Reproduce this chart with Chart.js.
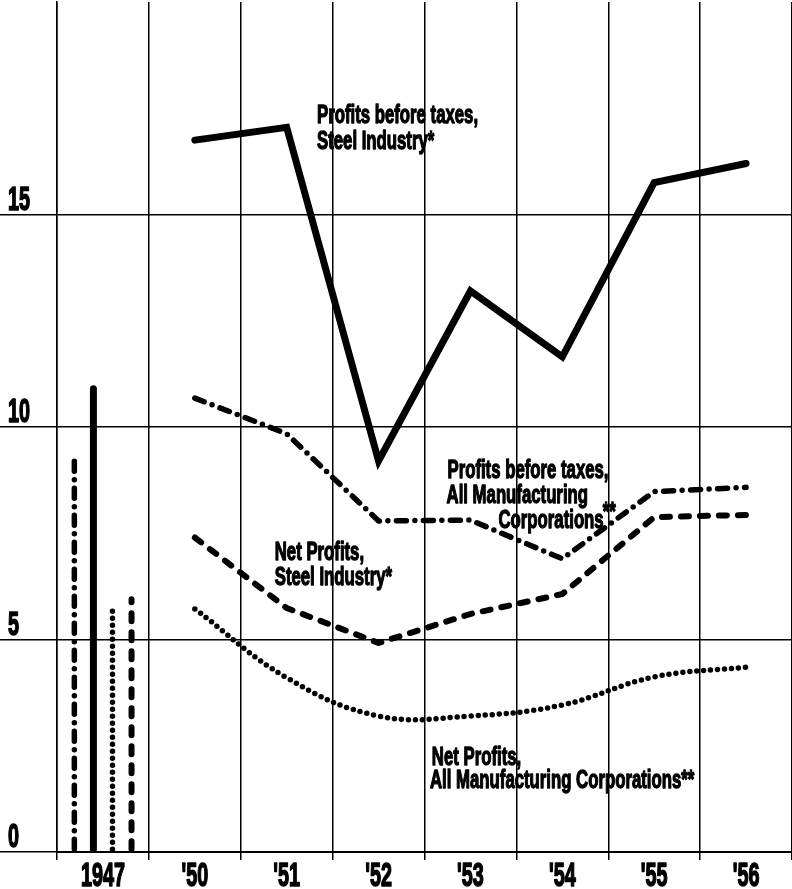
<!DOCTYPE html>
<html>
<head>
<meta charset="utf-8">
<script src="https://cdn.jsdelivr.net/npm/chart.js@4.4.1/dist/chart.umd.min.js"></script>
<style>
html, body { margin: 0; padding: 0; background: #fff; }
</style>
</head>
<body>
<canvas id="myChart" width="792" height="889"></canvas>
<script>
// categories and values (per cent); 1947 is drawn as single bars, 1950-56 as lines
var years = ["1947", "'50", "'51", "'52", "'53", "'54", "'55", "'56"];
var yTickValues = [0, 5, 10, 15];

var steelBefore = [10.9, 16.75, 17.05, 9.2, 13.2, 11.65, 15.75, 16.2];
var steelNet = [5.95, 7.4, 5.74, 4.92, 5.6, 6.07, 7.88, 7.93];
var allBefore = [9.27, 10.68, 9.84, 7.79, 7.81, 6.9, 8.48, 8.58];
var allNet = [5.69, 5.72, 4.1, 3.2, 3.2, 3.46, 4.12, 4.35];

// annotations: category position, value position
var notes = [
    {text: "Profits before taxes,", at: 2.33, v: 17.15, align: "left"},
    {text: "Steel Industry*", at: 2.33, v: 16.54, align: "left"},
    {text: "Profits before taxes,", at: 3.75, v: 8.8, align: "left"},
    {text: "All Manufacturing", at: 3.74, v: 8.21, align: "left"},
    {text: "Corporations", at: 5.45, v: 7.62, align: "right"},
    {text: "**", at: 5.44, v: 7.81, align: "left"},
    {text: "Net Profits,", at: 1.87, v: 6.87, align: "left"},
    {text: "Steel Industry*", at: 1.87, v: 6.28, align: "left"},
    {text: "Net Profits,", at: 3.58, v: 2.05, align: "left"},
    {text: "All Manufacturing Corporations**", at: 3.56, v: 1.51, align: "left"}
];

var tickFont = "bold 33px 'Liberation Sans', Arial, sans-serif";
var noteFont = "bold 25px 'Liberation Sans', Arial, sans-serif";

var styles = {
    solid: {width: 7, dash: []},
    dashed: {width: 6, dash: [8, 11]},
    dashdot: {width: 5.5, dash: [10, 8.5, 0, 8.5]},
    dotted: {width: 5.5, dash: [0, 7]}
};

function firstOnly(arr) {
    return arr.map(function (v, i) { return i === 0 ? v : null; });
}
function restOnly(arr) {
    return arr.map(function (v, i) { return i === 0 ? null : v; });
}

function barSet(label, arr, st) {
    return {
        type: 'bar',
        label: label,
        data: firstOnly(arr),
        backgroundColor: 'rgba(0,0,0,0)',
        borderWidth: 0,
        strokeWidth: st.width,
        strokeDash: st.dash
    };
}
function lineSet(label, arr, st, tension) {
    return {
        type: 'line',
        label: label,
        data: restOnly(arr),
        borderColor: '#000',
        borderWidth: st.width,
        borderDash: st.dash,
        borderCapStyle: 'round',
        borderJoinStyle: st.dash.length ? 'round' : 'miter',
        pointRadius: 0,
        tension: tension || 0,
        fill: false
    };
}

function drawCondensed(ctx, text, x, y, align, font, sx, weight) {
    ctx.save();
    ctx.font = font;
    ctx.textAlign = align;
    ctx.textBaseline = 'alphabetic';
    ctx.fillStyle = '#000';
    ctx.strokeStyle = '#000';
    ctx.lineWidth = weight;
    ctx.lineJoin = 'round';
    ctx.scale(sx, 1);
    ctx.fillText(text, x / sx, y);
    ctx.strokeText(text, x / sx, y);
    ctx.restore();
}

// 1947 bars drawn as dashed strokes at the bar positions
var barStrokes = {
    id: 'barStrokes',
    afterDatasetsDraw: function (chart) {
        var ctx = chart.ctx;
        chart.data.datasets.forEach(function (ds, i) {
            if (ds.type !== 'bar') return;
            var meta = chart.getDatasetMeta(i);
            meta.data.forEach(function (bar, j) {
                if (ds.data[j] == null) return;
                ctx.save();
                ctx.strokeStyle = '#000';
                ctx.lineWidth = ds.strokeWidth;
                ctx.lineCap = 'round';
                ctx.setLineDash(ds.strokeDash);
                ctx.beginPath();
                ctx.moveTo(bar.x, bar.base - 2);
                ctx.lineTo(bar.x, bar.y);
                ctx.stroke();
                ctx.restore();
            });
        });
    }
};

// tick labels and notes, in the condensed look of the original
var textLayer = {
    id: 'textLayer',
    afterDraw: function (chart) {
        var ctx = chart.ctx;
        var xs = chart.scales.x;
        var ys = chart.scales.y;
        xs.ticks.forEach(function (t, i) {
            drawCondensed(ctx, xs.getLabelForValue(t.value), xs.getPixelForTick(i), xs.top + 34, 'center', tickFont, 0.6, 1.6);
        });
        ys.ticks.forEach(function (t, i) {
            if (yTickValues.indexOf(t.value) < 0) return;
            drawCondensed(ctx, String(t.value), 8, ys.getPixelForTick(i) - 5, 'left', tickFont, 0.6, 1.6);
        });
        notes.forEach(function (n) {
            drawCondensed(ctx, n.text, xs.getPixelForValue(n.at), ys.getPixelForValue(n.v), n.align, noteFont, 0.67, 1.3);
        });
    }
};

var ctx = document.getElementById("myChart");
var myChart = new Chart(ctx, {
    type: 'bar',
    data: {
        labels: years,
        datasets: [
            barSet('Profits before taxes, All Manufacturing Corporations', allBefore, styles.dashdot),
            barSet('Profits before taxes, Steel Industry', steelBefore, styles.solid),
            barSet('Net Profits, All Manufacturing Corporations', allNet, styles.dotted),
            barSet('Net Profits, Steel Industry', steelNet, styles.dashed),
            lineSet('Profits before taxes, Steel Industry', steelBefore, styles.solid),
            lineSet('Profits before taxes, All Manufacturing Corporations', allBefore, styles.dashdot),
            lineSet('Net Profits, Steel Industry', steelNet, styles.dashed),
            lineSet('Net Profits, All Manufacturing Corporations', allNet, styles.dotted, 0.4)
        ]
    },
    options: {
        responsive: false,
        animation: false,
        devicePixelRatio: 1,
        categoryPercentage: 0.83,
        barPercentage: 0.3,
        layout: {padding: {top: 2, left: 0, right: 0, bottom: 0}},
        plugins: {
            legend: {display: false},
            tooltip: {enabled: false}
        },
        scales: {
            x: {
                type: 'category',
                offset: true,
                grid: {
                    offset: true,
                    color: '#000',
                    lineWidth: 1.5,
                    tickLength: 8
                },
                border: {display: true, color: '#000', width: 2},
                ticks: {display: false},
                afterFit: function (scale) { scale.height = 37; }
            },
            y: {
                min: 0,
                max: 20,
                ticks: {stepSize: 5, display: false},
                grid: {
                    color: function (c) {
                        return c.tick && c.tick.value === 20 ? 'rgba(0,0,0,0)' : '#000';
                    },
                    lineWidth: 1.5,
                    tickLength: 57
                },
                border: {display: true, color: '#000', width: 1.5},
                afterFit: function (scale) { scale.width = 57; }
            }
        }
    },
    plugins: [barStrokes, textLayer]
});
</script>
</body>
</html>
